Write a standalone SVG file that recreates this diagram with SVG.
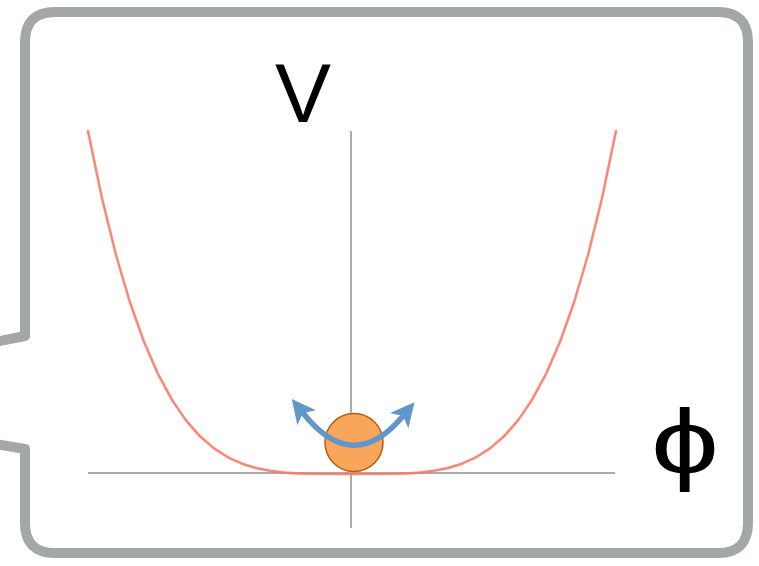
<svg xmlns="http://www.w3.org/2000/svg" width="759" height="566" viewBox="0 0 759 566">
  <style>
    .frame { fill: none; stroke: #a3a7a5; stroke-width: 10; stroke-linejoin: round; }
    .axis { stroke: #ababab; stroke-width: 2; fill: none; }
    .curve { fill: none; stroke: #ff7766; stroke-width: 2.5; stroke-linejoin: round; stroke-linecap: round; opacity: 0.9; }
    .label { font-family: "Liberation Sans", "DejaVu Sans", sans-serif; fill: #000; }
    .swing { fill: none; stroke: #6196cc; stroke-width: 5.5; }
  </style>
  <defs>
    <marker id="head" markerUnits="userSpaceOnUse" markerWidth="26" markerHeight="24" refX="6" refY="12" orient="auto-start-reverse">
      <path d="M 24,12 L 0,0 L 6,12 L 0,24 Z" fill="#6196cc"/>
    </marker>
  </defs>
  <rect width="759" height="566" fill="#ffffff"/>
  <g id="frame">
    <path class="frame" d="M -10,343 L 25,336 L 25,42 Q 25,12 55,12 L 718,12 Q 748,12 748,42 L 748,523 Q 748,553 718,553 L 55,553 Q 25,553 25,523 L 25,449 L -10,443"/>
  </g>
  <g id="axes">
    <line class="axis" x1="88" y1="473" x2="615" y2="473"/>
    <line class="axis" x1="351" y1="131" x2="351" y2="528"/>
  </g>
  <g id="potential">
    <polyline class="curve" points="88,131 102,198.2 116,255 130,302.5 144,341.8 158,374 172,399.9 186,420.4 200,436.3 214,448.4 228,457.3 242,463.7 256,468 270,470.8 284,472.5 298,473.4 312,473.8 352,474 392,473.8 406,473.4 420,472.5 434,470.8 448,468 462,463.7 476,457.3 490,448.4 504,436.3 518,420.4 532,399.9 546,374 560,341.8 574,302.5 588,255 602,198.2 616,131"/>
  </g>
  <g id="ball">
    <circle cx="354" cy="442.5" r="29" fill="#f9a65a" stroke="#b0600f" stroke-width="1.5"/>
  </g>
  <g id="connectors">
    <path class="swing" d="M 303,413 Q 353,476 403,416" marker-start="url(#head)" marker-end="url(#head)"/>
  </g>
  <g id="labels">
    <text id="label-V" class="label" x="303" y="122" font-size="84" text-anchor="middle">V</text>
    <text id="label-phi" class="label" transform="translate(685,473) scale(1.35,1)" x="0" y="0" font-size="90" text-anchor="middle">ϕ</text>
  </g>
</svg>
